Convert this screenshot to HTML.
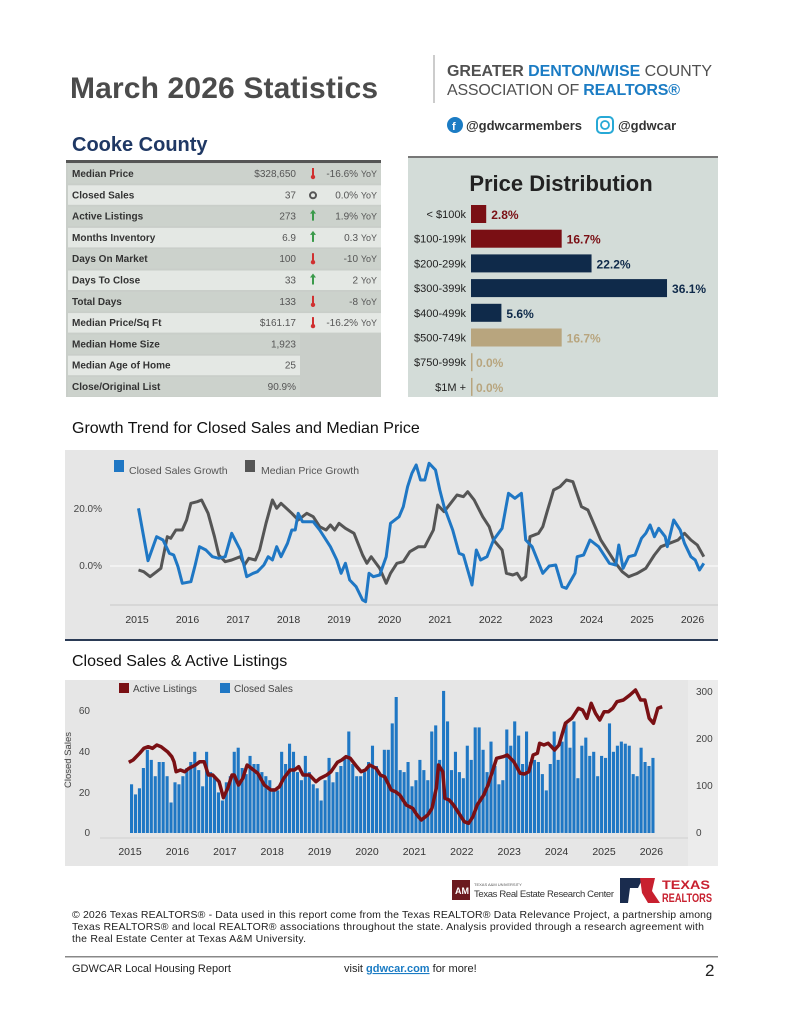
<!DOCTYPE html>
<html><head><meta charset="utf-8"><style>
html,body{margin:0;padding:0;background:#fff}
svg{display:block}
text{font-family:"Liberation Sans",Arial,sans-serif}
</style></head><body>
<svg id="s" width="791" height="1024" viewBox="0 0 791 1024" xmlns="http://www.w3.org/2000/svg">
<rect width="791" height="1024" fill="#fff"/>
<text x="70" y="98" font-size="30" font-weight="bold" fill="#4b4b4b" textLength="308">March 2026 Statistics</text>
<rect x="433" y="55" width="2" height="48" fill="#ccc"/>
<text x="447" y="76" font-size="16" fill="#505050" font-weight="bold" textLength="265">GREATER <tspan fill="#1b7cc4">DENTON/WISE</tspan><tspan font-weight="normal" fill="#505050"> COUNTY</tspan></text>
<text x="447" y="95" font-size="16" fill="#505050" textLength="233">ASSOCIATION OF <tspan fill="#1b7cc4" font-weight="bold">REALTORS®</tspan></text>
<circle cx="455" cy="125" r="8" fill="#1b7cc4"/><text x="452" y="130" font-size="11" font-weight="bold" fill="#fff">f</text>
<text x="466" y="130" font-size="13" font-weight="bold" fill="#333">@gdwcarmembers</text>
<rect x="597" y="117" width="16" height="16" rx="4" fill="none" stroke="#27a9d6" stroke-width="2"/><circle cx="605" cy="125" r="4" fill="none" stroke="#27a9d6" stroke-width="1.8"/>
<text x="618" y="130" font-size="13" font-weight="bold" fill="#333">@gdwcar</text>
<text x="72" y="151" font-size="20" font-weight="bold" fill="#1f3864">Cooke County</text>
<g id="tbl"></g>
<rect x="408" y="156" width="310" height="241" fill="#d3dcd8"/>
<rect x="408" y="156" width="310" height="2" fill="#777"/>
<text x="561" y="191" font-size="22" font-weight="bold" fill="#222" text-anchor="middle">Price Distribution</text>
<g id="pd"></g>
<text x="72" y="433" font-size="16" fill="#111">Growth Trend for Closed Sales and Median Price</text>
<rect x="65" y="450" width="653" height="190" fill="#e6e6e6"/>
<rect x="65" y="639" width="653" height="2" fill="#2a3a55"/>
<line x1="110" y1="605" x2="718" y2="605" stroke="#c8c8c8"/>
<line x1="110" y1="566" x2="718" y2="566" stroke="#fff" stroke-width="1"/>
<text x="102" y="512" font-size="10" fill="#444" text-anchor="end">20.0%</text>
<text x="102" y="569" font-size="10" fill="#444" text-anchor="end">0.0%</text>
<rect x="114" y="460" width="10" height="12" fill="#1f77c4"/><text x="129" y="474" font-size="10.5" fill="#555">Closed Sales Growth</text>
<rect x="245" y="460" width="10" height="12" fill="#555"/><text x="261" y="474" font-size="10.5" fill="#555">Median Price Growth</text>
<g id="c1"></g>
<text x="72" y="666" font-size="16" fill="#111">Closed Sales &amp; Active Listings</text>
<rect x="65" y="680" width="653" height="186" fill="#e6e6e6"/>
<rect x="688" y="680" width="30" height="186" fill="#ececec"/>
<line x1="100" y1="838" x2="688" y2="838" stroke="#d0d0d0"/>
<text x="90" y="714" font-size="10" fill="#444" text-anchor="end">60</text>
<text x="90" y="755" font-size="10" fill="#444" text-anchor="end">40</text>
<text x="90" y="796" font-size="10" fill="#444" text-anchor="end">20</text>
<text x="90" y="836" font-size="10" fill="#444" text-anchor="end">0</text>
<text x="71" y="760" font-size="9.5" fill="#444" text-anchor="middle" transform="rotate(-90 71 760)">Closed Sales</text>
<text x="696" y="695" font-size="10" fill="#444">300</text>
<text x="696" y="742" font-size="10" fill="#444">200</text>
<text x="696" y="789" font-size="10" fill="#444">100</text>
<text x="696" y="836" font-size="10" fill="#444">0</text>
<rect x="119" y="683" width="10" height="10" fill="#7a1014"/><text x="133" y="692" font-size="10" fill="#444">Active Listings</text>
<rect x="220" y="683" width="10" height="10" fill="#1f77c4"/><text x="234" y="692" font-size="10" fill="#444">Closed Sales</text>
<g id="c2"></g>
<rect x="452" y="880" width="18" height="20" fill="#6b1a1f"/><text x="455" y="894" font-size="9" font-weight="bold" fill="#fff">AM</text>
<text x="474" y="886" font-size="4" fill="#555">TEXAS A&amp;M UNIVERSITY</text>
<text x="474" y="897" font-size="9.5" fill="#333" textLength="140">Texas Real Estate Research Center</text>
<path d="M620 878 L643 878 L638 888 L630 888 L628 903 L620 903 Z" fill="#1a2c4e"/>
<path d="M640 878 L655 878 L652 891 L660 903 L648 903 L642 893 Z" fill="#c8202f"/>
<text x="662" y="889" font-size="12" font-weight="bold" fill="#c8202f" textLength="48" lengthAdjust="spacingAndGlyphs">TEXAS</text>
<text x="662" y="902" font-size="12" font-weight="bold" fill="#c8202f" textLength="50" lengthAdjust="spacingAndGlyphs">REALTORS</text>
<text font-size="10.5" fill="#222"><tspan x="72" y="918" textLength="640">© 2026 Texas REALTORS® - Data used in this report come from the Texas REALTOR® Data Relevance Project, a partnership among</tspan><tspan x="72" y="930" textLength="632">Texas REALTORS® and local REALTOR® associations throughout the state. Analysis provided through a research agreement with</tspan><tspan x="72" y="942" textLength="234">the Real Estate Center at Texas A&amp;M University.</tspan></text>
<rect x="65" y="956" width="653" height="1.5" fill="#888"/>
<text x="72" y="972" font-size="11" fill="#222">GDWCAR Local Housing Report</text>
<text x="344" y="972" font-size="11" fill="#222">visit <tspan fill="#1b7cc4" font-weight="bold" text-decoration="underline">gdwcar.com</tspan> for more!</text>
<text x="705" y="976" font-size="17" fill="#222">2</text>
</svg>
<script>
var NS="http://www.w3.org/2000/svg";
function el(p,t,a,txt){var e=document.createElementNS(NS,t);for(var k in a)e.setAttribute(k,a[k]);if(txt!=null)e.textContent=txt;p.appendChild(e);return e;}
var T=document.getElementById('tbl');
var rows=[["Median Price","$328,650","d","-16.6%"],["Closed Sales","37","o","0.0%"],["Active Listings","273","u","1.9%"],["Months Inventory","6.9","u","0.3"],["Days On Market","100","d","-10"],["Days To Close","33","u","2"],["Total Days","133","d","-8"],["Median Price/Sq Ft","$161.17","d","-16.2%"],["Median Home Size","1,923","",""],["Median Age of Home","25","",""],["Close/Original List","90.9%","",""]];
el(T,'rect',{x:66,y:160,width:315,height:237,fill:'#c9cec9'});
el(T,'rect',{x:66,y:160,width:315,height:3,fill:'#555'});
for(var i=0;i<rows.length;i++){var y=163+i*21.3,c=i%2?'#e4e8e4':'#ccd2cc';
 var w=rows[i][2]?315:234;el(T,'rect',{x:68,y:y+1,width:w-2,height:19.5,fill:c});
 el(T,'text',{x:72,y:y+14,'font-size':10,'font-weight':'bold',fill:'#333'},rows[i][0]);
 el(T,'text',{x:296,y:y+14,'font-size':10,fill:'#555','text-anchor':'end'},rows[i][1]);
 var ic=rows[i][2];
 if(ic=='d'){el(T,'rect',{x:312,y:y+5,width:2,height:8,fill:'#d03030'});el(T,'circle',{cx:313,cy:y+14,r:2.2,fill:'#d03030'});}
 if(ic=='u'){el(T,'path',{d:'M313 '+(y+4)+' l3 4 h-2 v7 h-2 v-7 h-2z',fill:'#3a9a4a'});}
 if(ic=='o'){el(T,'circle',{cx:313,cy:y+11,r:3,fill:'none',stroke:'#555','stroke-width':2});}
 if(rows[i][3]){var t=el(T,'text',{x:377,y:y+14,'font-size':10,fill:'#555','text-anchor':'end'});
  t.appendChild(document.createTextNode(rows[i][3]+' '));el(t,'tspan',{'font-size':9},'YoY');}
}
var P=document.getElementById('pd');
var pd=[["< $100k",2.8,'#7a0f14'],["$100-199k",16.7,'#7a0f14'],["$200-299k",22.2,'#0f2a4a'],["$300-399k",36.1,'#0f2a4a'],["$400-499k",5.6,'#0f2a4a'],["$500-749k",16.7,'#b8a57e'],["$750-999k",0,'#b8a57e'],["$1M +",0,'#b8a57e']];
for(var i=0;i<pd.length;i++){var cy=214+i*24.7;
 el(P,'text',{x:466,y:cy+4,'font-size':11,fill:'#222','text-anchor':'end'},pd[i][0]);
 var w=pd[i][1]*5.43;el(P,'rect',{x:471,y:cy-9,width:Math.max(w,1.5),height:18,fill:pd[i][2]});
 var col=i>=5?'#b8a57e':(i<2?'#7a0f14':'#0f2a4a');
 el(P,'text',{x:471+w+5,y:cy+5,'font-size':12,'font-weight':'bold',fill:col},pd[i][1].toFixed(1)+'%');}
var C1=document.getElementById('c1');
var yrs1=['2015','2016','2017','2018','2019','2020','2021','2022','2023','2024','2025','2026'];
for(var i=0;i<12;i++)el(C1,'text',{x:137+i*50.5,y:623,'font-size':10.5,fill:'#333','text-anchor':'middle'},yrs1[i]);
function pts(a,fx,fy){var s=[];for(var i=0;i<a.length;i+=2)s.push(fx(a[i]).toFixed(1)+','+fy(a[i+1]).toFixed(1));return s.join(' ');}
var blue=[183,205,205,362,225,290,240,300,255,340,265,345,275,380,285,430,305,425,315,375,325,320,340,330,355,350,370,355,385,350,400,280,420,330,435,410,450,400,460,395,475,375,485,350,495,360,505,320,515,350,530,310,540,270,548,270,555,220,565,245,590,245,605,270,630,320,645,360,655,400,665,370,675,420,690,440,705,480,712,485,720,400,730,410,745,405,760,350,770,250,790,230,800,200,810,140,820,100,830,75,840,120,850,120,860,70,875,90,885,150,895,200,915,270,930,340,940,345,950,390,960,435,970,330,980,360,995,350,1010,300,1030,265,1045,160,1060,175,1075,160,1085,300,1100,320,1125,400,1140,378,1155,375,1170,440,1180,445,1200,400,1205,350,1220,345,1235,300,1255,320,1270,350,1280,370,1295,375,1302,315,1312,385,1325,350,1340,345,1355,295,1365,280,1375,255,1385,290,1395,265,1410,290,1415,320,1430,240,1445,270,1455,310,1470,350,1480,360,1490,390,1500,370];
var gray=[183,390,195,395,210,410,225,395,235,385,250,290,258,295,270,270,285,270,295,240,305,190,320,185,330,180,345,220,360,290,370,345,385,365,400,360,420,350,430,375,440,355,455,360,465,330,480,250,495,180,505,205,515,190,540,220,555,240,575,220,590,230,605,260,620,270,630,255,640,270,650,250,665,265,685,280,705,345,715,370,725,350,745,385,760,430,770,400,785,370,800,365,815,335,835,320,850,320,870,270,880,195,895,215,910,190,925,165,940,170,950,155,965,180,985,230,1000,260,1010,300,1030,330,1040,400,1055,405,1065,400,1075,420,1085,410,1095,290,1115,280,1125,260,1135,215,1150,150,1165,140,1180,120,1195,125,1215,200,1230,210,1240,240,1260,300,1280,340,1295,370,1310,395,1325,410,1345,400,1365,385,1385,345,1400,320,1420,310,1440,300,1455,280,1470,300,1485,315,1500,350];
var fx1=function(z){return 60+z/2.33},fy1=function(z){return 440+z/3};
el(C1,'polyline',{points:pts(gray,fx1,fy1),fill:'none',stroke:'#555','stroke-width':3,'stroke-linejoin':'round'});
el(C1,'polyline',{points:pts(blue,fx1,fy1),fill:'none',stroke:'#1f77c4','stroke-width':3,'stroke-linejoin':'round'});
var C2=document.getElementById('c2');
for(var i=0;i<12;i++)el(C2,'text',{x:130+i*47.4,y:855,'font-size':10.5,fill:'#333','text-anchor':'middle'},yrs1[i]);
var bars=[24,19,22,32,41,36,28,35,35,28,15,25,24,28,32,35,40,31,23,40,30,28,20,16,25,28,40,42,32,29,38,34,34,30,28,26,22,21,40,34,44,40,30,26,38,30,24,22,16,26,37,25,30,33,37,50,34,28,28,30,35,43,33,28,41,41,54,67,31,30,35,23,26,36,31,26,50,53,36,70,55,31,40,30,27,43,36,52,52,41,30,45,33,24,26,51,43,55,48,34,50,35,36,35,29,21,34,50,36,45,55,42,55,27,43,47,38,40,28,38,37,54,40,43,45,44,43,29,28,42,35,33,37];
for(var i=0;i<bars.length;i++){var h=bars[i]*2.03;el(C2,'rect',{x:(130+i*3.95).toFixed(2),y:(833-h).toFixed(1),width:3.1,height:h.toFixed(1),fill:'#1f77c4'});}
var al=[160,262,170,255,185,235,195,220,205,215,215,220,225,210,235,215,250,230,260,245,265,260,270,290,280,285,290,290,300,280,315,270,325,260,335,260,345,300,355,300,370,320,380,368,390,340,400,300,405,300,415,330,425,310,435,270,450,285,460,295,475,330,490,345,500,345,510,335,520,310,535,285,545,285,555,275,565,300,580,300,595,320,605,310,620,300,630,290,645,262,655,255,665,245,675,250,690,275,700,290,710,285,720,270,735,280,745,300,755,305,770,345,780,350,790,360,805,390,820,400,830,420,840,435,855,420,865,400,875,340,880,270,890,290,895,370,905,375,915,390,930,420,940,440,950,445,960,425,970,390,985,360,995,330,1005,290,1015,250,1030,245,1040,240,1055,260,1070,295,1080,297,1090,290,1100,240,1110,235,1115,205,1125,210,1135,205,1150,225,1160,210,1175,145,1190,130,1205,100,1215,105,1225,130,1235,85,1245,115,1255,135,1265,110,1275,110,1285,100,1295,80,1310,75,1325,60,1338,45,1350,75,1360,75,1370,130,1380,145,1390,100,1400,95];
var fx2=function(z){return 60+z/2.325},fy2=function(z){return 675+z/3};
el(C2,'polyline',{points:pts(al,fx2,fy2),fill:'none',stroke:'#7a1014','stroke-width':3.5,'stroke-linejoin':'round'});
</script>
</body></html>
